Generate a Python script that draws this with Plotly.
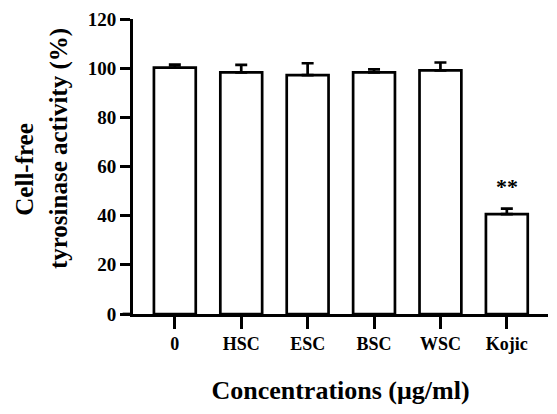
import plotly.graph_objects as go

categories = ["0", "HSC", "ESC", "BSC", "WSC", "Kojic"]
values = [100.2, 98.3, 97.2, 98.3, 99.1, 40.6]
errors = [1.2, 3.0, 4.8, 1.2, 3.2, 2.3]
significance = ["", "", "", "", "", "**"]
y_ticks = [0, 20, 40, 60, 80, 100, 120]
y_title_lines = ["Cell-free", "tyrosinase activity (%)"]
x_title = "Concentrations (μg/ml)"

font_family = "Liberation Serif, Times New Roman, serif"

fig = go.Figure()
fig.add_trace(go.Bar(
    x=list(range(len(categories))),
    y=values,
    width=0.63,
    marker=dict(color="white", line=dict(color="black", width=2.7)),
    error_y=dict(type="data", symmetric=False, array=errors,
                 arrayminus=[0] * len(errors), color="black",
                 thickness=2.7, width=6),
    showlegend=False,
))

for i, s in enumerate(significance):
    if s:
        fig.add_annotation(x=i, y=values[i] + errors[i], text="<b>" + s + "</b>",
                           showarrow=False, yanchor="bottom", yshift=8,
                           font=dict(family=font_family, size=22, color="black"))

# y-axis title as two rotated lines
fig.add_annotation(xref="paper", yref="paper", x=-0.262, y=0.49, text="<b>" + y_title_lines[0] + "</b>",
                   textangle=-90, showarrow=False, xanchor="center", yanchor="middle",
                   font=dict(family=font_family, size=25, color="black"))
fig.add_annotation(xref="paper", yref="paper", x=-0.18, y=0.56, text="<b>" + y_title_lines[1] + "</b>",
                   textangle=-90, showarrow=False, xanchor="center", yanchor="middle",
                   font=dict(family=font_family, size=25, color="black"))

fig.add_shape(type="line", xref="x domain", yref="y", x0=-0.025, x1=0, y0=0, y1=0,
              line=dict(color="black", width=2.7))

fig.update_layout(
    width=557, height=414,
    margin=dict(l=133, r=9, t=15, b=100),
    paper_bgcolor="white", plot_bgcolor="white",
    font=dict(family=font_family, color="black"),
    xaxis=dict(
        range=[-0.63, 5.62],
        tickmode="array",
        tickvals=list(range(len(categories))),
        ticktext=["<b>" + c + "</b>" for c in categories],
        ticks="outside", ticklen=12, tickwidth=2.7, tickcolor="black",
        showline=True, linecolor="black", linewidth=2.7,
        showgrid=False, zeroline=False,
        tickfont=dict(size=18, family=font_family),
        title=dict(text="<b>" + x_title + "</b>", standoff=28,
                   font=dict(size=26, family=font_family)),
    ),
    yaxis=dict(
        range=[0, 120],
        tickmode="array",
        tickvals=y_ticks,
        ticktext=["<b>%d</b>" % t for t in y_ticks],
        ticks="outside", ticklen=10, tickwidth=2.7, tickcolor="black",
        showline=True, linecolor="black", linewidth=2.7,
        showgrid=False, zeroline=False,
        tickfont=dict(size=19, family=font_family),
    ),
)

fig.write_html("out.html")
